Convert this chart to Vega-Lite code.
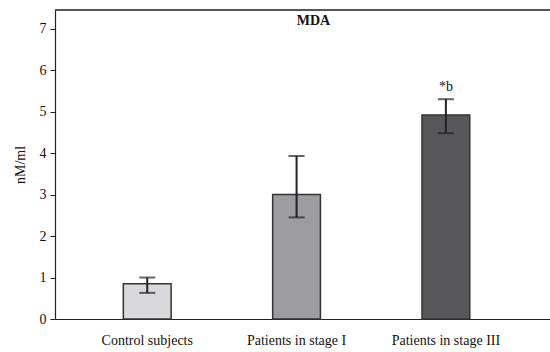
{
  "$schema": "https://vega.github.io/schema/vega-lite/v6.json",
  "autosize": {"type": "none"},
  "padding": {"left": 55, "top": 10, "right": 0, "bottom": 33},
  "width": 495,
  "height": 309,
  "background": "white",
  "config": {
    "font": "Liberation Serif",
    "axis": {"labelFont": "Liberation Serif", "titleFont": "Liberation Serif"},
    "text": {"font": "Liberation Serif"},
    "view": {"stroke": null}
  },
  "title": {"text": "MDA", "font": "Liberation Serif", "fontSize": 14, "fontWeight": "bold", "color": "#111", "anchor": "middle", "dx": 11, "offset": -19},
  "data": {
    "values": [
      {"group": "Control subjects", "mean": 0.85, "low": 0.63, "high": 1.0, "note": ""},
      {"group": "Patients in stage I", "mean": 3.0, "low": 2.45, "high": 3.93, "note": ""},
      {"group": "Patients in stage III", "mean": 4.92, "low": 4.48, "high": 5.3, "note": "*b"}
    ]
  },
  "layer": [
    {
      "mark": {"type": "bar", "stroke": "#333", "strokeWidth": 1.5},
      "encoding": {
        "x": {
          "field": "group", "type": "nominal", "sort": null,
          "scale": {"paddingInner": 0.68, "paddingOuter": 0.4975, "align": 0.46},
          "axis": {"title": null, "labelAngle": 0, "ticks": false, "labelFont": "Liberation Serif", "labelFontSize": 14, "labelColor": "#111", "labelPadding": 14, "domainColor": "#222", "domainWidth": 1.2}
        },
        "y": {
          "field": "mean", "type": "quantitative",
          "scale": {"domain": [0, 7.45], "nice": false},
          "axis": {"title": "nM/ml", "titleFont": "Liberation Serif", "titleFontSize": 14, "titleFontWeight": "normal", "titleColor": "#111", "titlePadding": 12, "values": [0,1,2,3,4,5,6,7], "grid": false, "tickSize": 5, "tickColor": "#222", "labelFont": "Liberation Serif", "labelFontSize": 14, "labelColor": "#111", "labelPadding": 4, "domainColor": "#222", "domainWidth": 1.2}
        },
        "color": {
          "field": "group", "type": "nominal", "sort": null, "legend": null,
          "scale": {"range": ["#d9d9db", "#9d9d9f", "#58585a"]}
        }
      }
    },
    {
      "mark": {"type": "rule", "color": "#555", "strokeWidth": 1.5},
      "encoding": {"y": {"datum": 7.45, "type": "quantitative"}}
    },
    {
      "mark": {"type": "rule", "color": "#222", "strokeWidth": 2},
      "encoding": {
        "x": {"field": "group", "type": "nominal", "sort": null},
        "y": {"field": "low", "type": "quantitative"},
        "y2": {"field": "high"}
      }
    },
    {
      "mark": {"type": "tick", "color": "#222", "thickness": 2, "size": 16, "orient": "horizontal"},
      "encoding": {
        "x": {"field": "group", "type": "nominal", "sort": null},
        "y": {"field": "low", "type": "quantitative"}
      }
    },
    {
      "mark": {"type": "tick", "color": "#222", "thickness": 2, "size": 16, "orient": "horizontal"},
      "encoding": {
        "x": {"field": "group", "type": "nominal", "sort": null},
        "y": {"field": "high", "type": "quantitative"}
      }
    },
    {
      "mark": {"type": "text", "font": "Liberation Serif", "fontSize": 14, "color": "#111", "baseline": "bottom", "dy": -5},
      "encoding": {
        "x": {"field": "group", "type": "nominal", "sort": null},
        "y": {"field": "high", "type": "quantitative"},
        "text": {"field": "note"}
      }
    }
  ]
}
